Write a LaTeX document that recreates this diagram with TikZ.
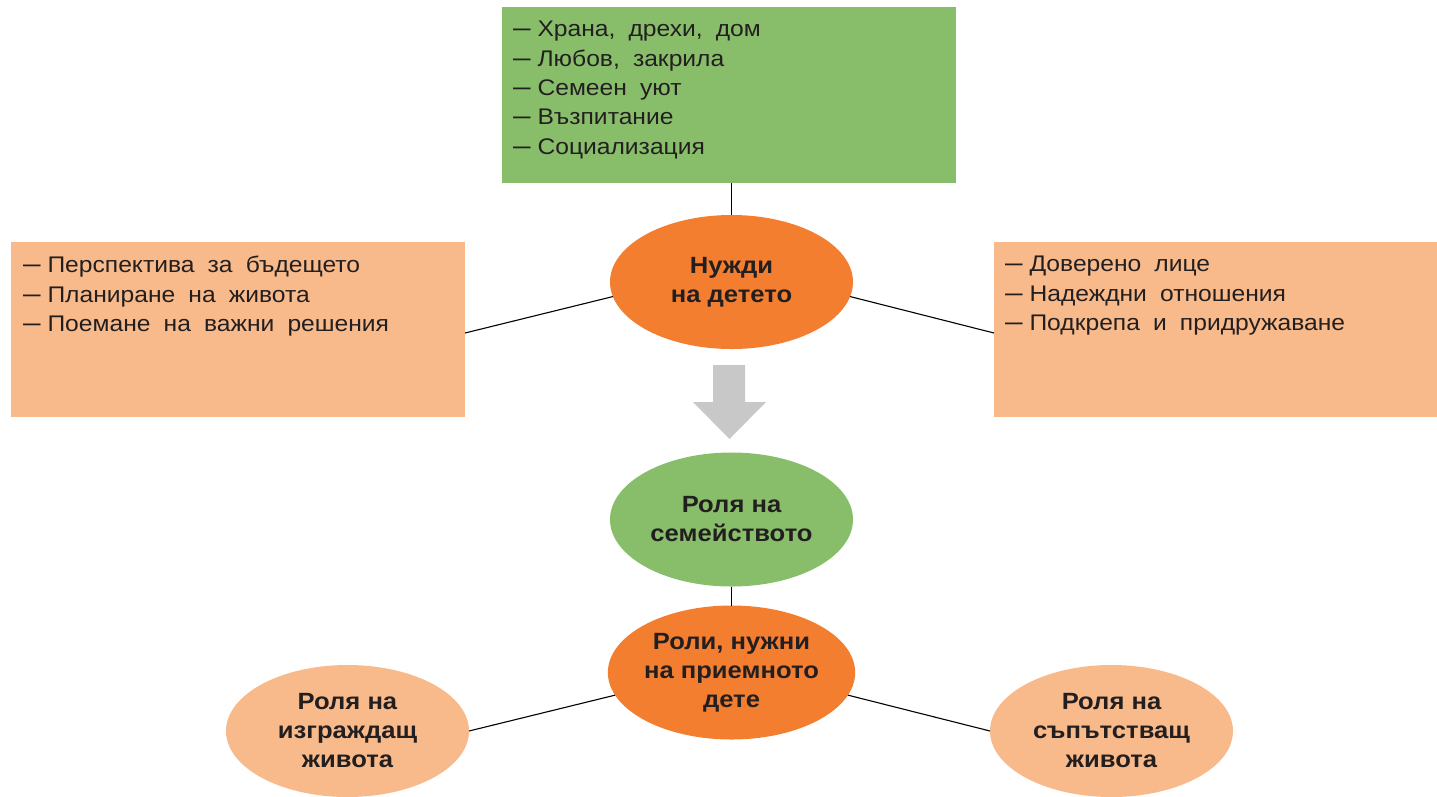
\documentclass[tikz,border=0pt]{standalone}
\usepackage{fontspec}
\usepackage{graphicx}
\setmainfont{Liberation Sans}[FakeStretch=1.09]
\usetikzlibrary{shapes.geometric,calc}
\definecolor{cgreen}{HTML}{88BE6A}
\definecolor{corange}{HTML}{F37E30}
\definecolor{cpeach}{HTML}{F8BA8A}
\definecolor{cgray}{HTML}{C8C8C8}
\definecolor{ctext}{HTML}{231F20}
\newcommand\dsh{\scalebox{1.28}[1.15]{–}\hspace{0.3em}}
\begin{document}
\begin{tikzpicture}[x=1pt,y=-1pt,
  box/.style={rectangle, draw=none, inner sep=0pt, outer sep=0pt, anchor=north west},
  listtext/.style={anchor=north west, inner sep=0pt, align=left, text=ctext,
    font=\fontsize{22.6}{29.4}\selectfont,
    execute at begin node={\spaceskip=0.58em plus 0.1em\relax}},
  bubble/.style={ellipse, inner sep=0pt, outer sep=0pt, minimum width=243pt, minimum height=134pt,
    text=ctext, align=center, font=\fontsize{23.5}{29}\selectfont\bfseries},
  link/.style={draw=black, line width=1.1pt}]
\useasboundingbox (0,0) rectangle (1437,796);

% boxes
\node[box, fill=cgreen, minimum width=454pt, minimum height=176pt] (gb) at (502,7) {};
\node[box, fill=cpeach, minimum width=454pt, minimum height=175pt] (lb) at (11,242) {};
\node[box, fill=cpeach, minimum width=443pt, minimum height=175pt] (rb) at (994,242) {};

\node[listtext] (gt) at (513,21) {\dsh Храна, дрехи, дом\\\dsh Любов, закрила\\\dsh Семеен уют\\\dsh Възпитание\\\dsh Социализация};
\node[listtext] (lt) at (23,256) {\dsh Перспектива за бъдещето\\\dsh Планиране на живота\\\dsh Поемане на важни решения};
\node[listtext] (rt) at (1005,256) {\dsh Доверено лице\\\dsh Надеждни отношения\\\dsh Подкрепа и придружаване};

% ellipses
\node[bubble, fill=corange] (e1) at (731.5,282) {Нужди\\на детето};
\node[bubble, fill=cgreen] (e2) at (731.5,519.5) {Роля на\\семейството};
\node[bubble, fill=corange] (e3) at (731.5,672.5) {Роли, нужни\\на приемното\\дете};
\node[bubble, fill=cpeach, minimum height=132pt] (le) at (347.5,731) {Роля на\\изграждащ\\живота};
\node[bubble, fill=cpeach, minimum height=132pt] (re) at (1111.5,731) {Роля на\\съпътстващ\\живота};

% gray arrow
\fill[cgray] (713,365) -- (745,365) -- (745,402) -- (766,402) -- (729.5,439) -- (693,402) -- (713,402) -- cycle;

% connectors
\draw[link] (gb.south -| e1.north) -- (e1.north);
\draw[link] (e1.187) -- ($(lb.east)+(0,3.5)$);
\draw[link] (e1.-7) -- ($(rb.west)+(0,3.5)$);
\draw[link] (e2.south) -- (e3.north);
\draw[link] (e3.191) -- (le.east);
\draw[link] (e3.-11) -- (re.west);
\end{tikzpicture}
\end{document}
